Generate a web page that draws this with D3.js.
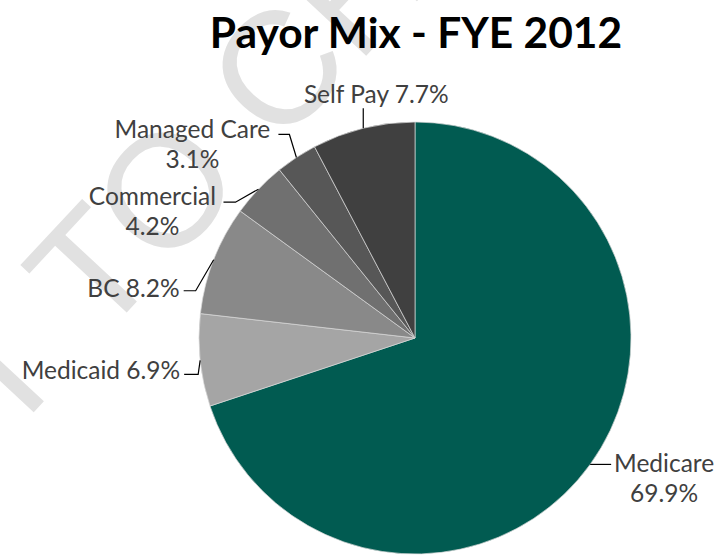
<!DOCTYPE html>
<html><head><meta charset="utf-8">
<script src="https://cdn.jsdelivr.net/npm/d3@7"></script>
<style>html,body{margin:0;padding:0;background:#fff;} svg{display:block;}</style>
</head><body>
<svg id="chart" width="724" height="558"></svg>
<script>
// Payor mix, fiscal year ending 2012 (percent of total)
const categories = ["Medicare", "Medicaid", "BC", "Commercial", "Managed Care", "Self Pay"];
const shares = [69.9, 6.9, 8.2, 4.2, 3.1, 7.7];
const sliceColors = ["#015b51", "#a5a5a5", "#898989", "#707070", "#575757", "#404040"];
const twoLineLabel = [true, false, false, true, true, false];

// Leader routes (relative to the slice edge) and label offsets
const leaderRoutes = [
  [[0, 0], [21, 0]],
  [[0, 0], [-2, 14], [-16, 14]],
  [[0, 0], [-18, 31], [-30, 31]],
  [[0, 0], [-23, 13], [-35, 13]],
  [[0, 0], [-7, -23], [-18, -23]],
  [[0, 0], [0, -20]]
];
const labelOffsets = [
  {dx: 74, dy: -2, anchor: "middle"},
  {dx: -20, dy: 9, anchor: "end"},
  {dx: -34, dy: 28, anchor: "end"},
  {dx: -106, dy: 6, anchor: "middle"},
  {dx: -104, dy: -29, anchor: "middle"},
  {dx: 13, dy: -35, anchor: "middle"}
];

const W = 724, H = 558;
const cx = 415, cy = 338, R = 216;
const labelFont = "Lato, 'Open Sans', sans-serif";
const labelSize = 24.5, lineGap = 30;

const svg = d3.select("#chart");

// faint diagonal watermark behind everything
const wm = svg.append("text")
  .text("SUBJECT TO CHANGE")
  .attr("font-family", "'Liberation Sans', Arial, sans-serif")
  .attr("font-size", 160)
  .attr("fill", "#e1e1e1");
{
  const oIdx = "SUBJECT TO CHANGE".indexOf("O");
  const ext = wm.node().getExtentOfChar(oIdx);
  const ox = ext.x + ext.width / 2, oy = ext.y + ext.height / 2;
  wm.attr("transform", `translate(165,190) rotate(-47) translate(${-ox},${-oy})`);
}

// title
svg.append("text")
  .attr("x", 416).attr("y", 48)
  .attr("text-anchor", "middle")
  .attr("font-family", labelFont)
  .attr("font-weight", 700)
  .attr("font-size", 42.5)
  .attr("fill", "#000")
  .text("Payor Mix - FYE 2012");

const data = categories.map((c, i) => ({name: c, value: shares[i], i}));
const pie = d3.pie().sort(null).value(d => d.value).startAngle(0).endAngle(2 * Math.PI);
const arcs = pie(data);
const arc = d3.arc().innerRadius(0).outerRadius(R);

const g = svg.append("g").attr("transform", `translate(${cx},${cy})`);
g.selectAll("path.slice").data(arcs).enter().append("path")
  .attr("class", "slice")
  .attr("d", arc)
  .attr("fill", d => sliceColors[d.data.i])
  .attr("stroke", "#d8d8d8")
  .attr("stroke-width", 0.7);

const fmt = d => d3.format(".1f")(d) + "%";
const line = d3.line();

arcs.forEach(a => {
  const i = a.data.i;
  const mid = (a.startAngle + a.endAngle) / 2;
  const ex = cx + R * Math.sin(mid), ey = cy - R * Math.cos(mid);
  svg.append("path")
    .attr("d", line(leaderRoutes[i].map(p => [ex + p[0], ey + p[1]])))
    .attr("fill", "none")
    .attr("stroke", "#000")
    .attr("stroke-width", 1.2);
  const off = labelOffsets[i];
  const lines = twoLineLabel[i] ? [a.data.name, fmt(a.data.value)] : [a.data.name + " " + fmt(a.data.value)];
  const t = svg.append("text")
    .attr("font-family", labelFont)
    .attr("font-size", labelSize)
    .attr("fill", "#404040")
    .attr("text-anchor", off.anchor);
  lines.forEach((s, k) => {
    t.append("tspan")
      .attr("x", ex + off.dx)
      .attr("y", ey + off.dy + k * lineGap)
      .attr("dominant-baseline", "central")
      .text(s);
  });
});
</script>
</body></html>
